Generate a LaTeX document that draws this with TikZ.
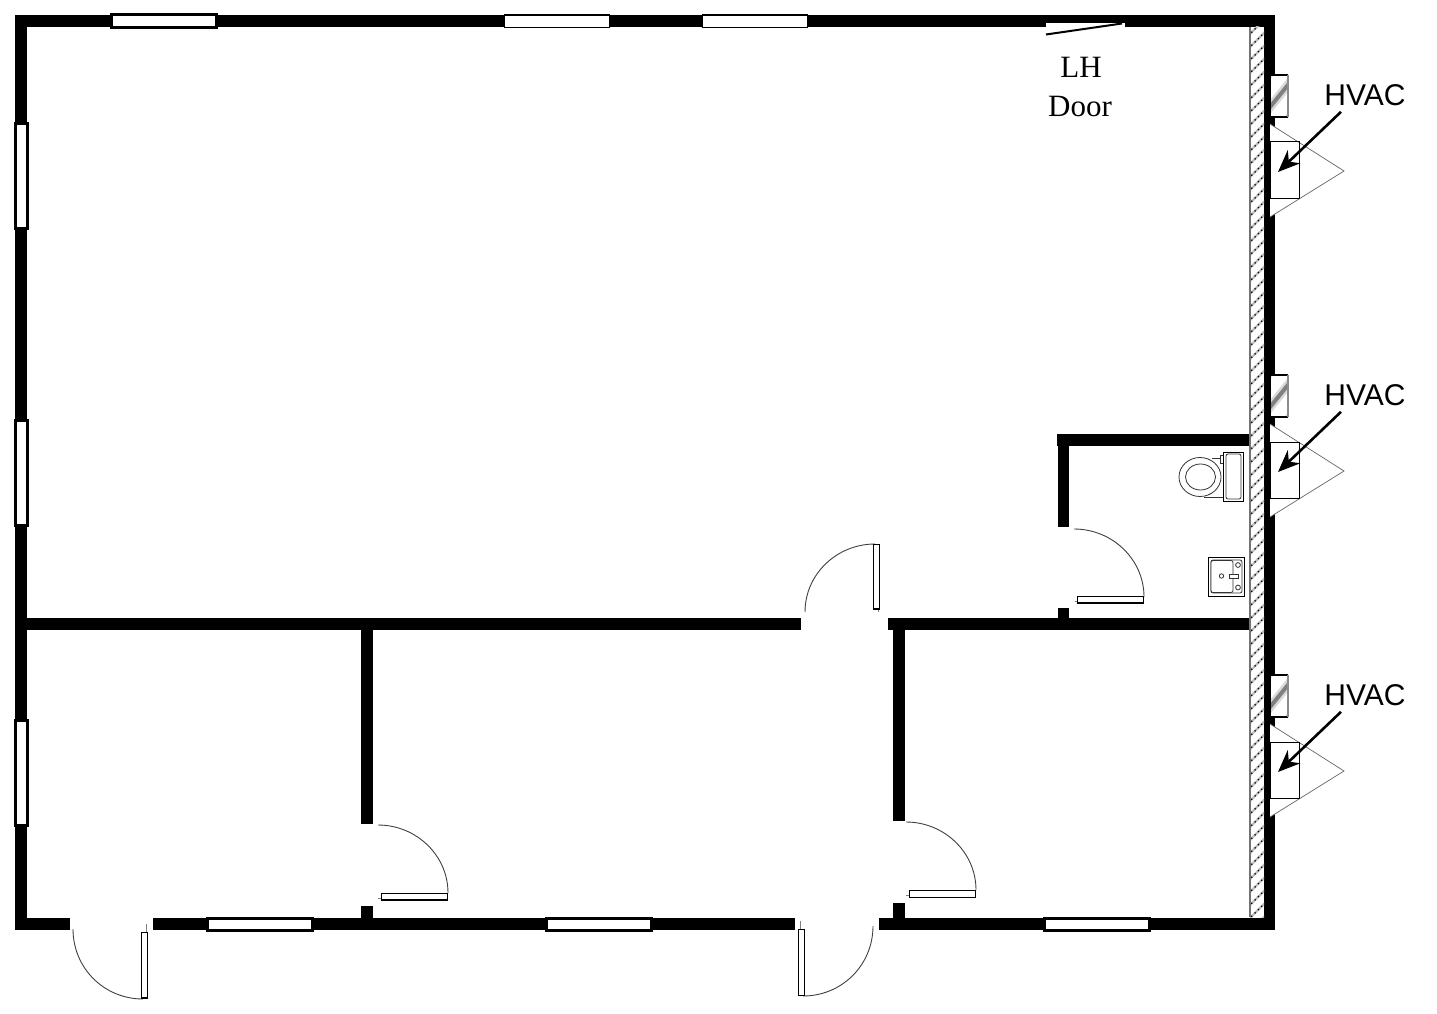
\documentclass[tikz,border=0pt]{standalone}
\usepackage{fontspec}
\setmainfont{Liberation Serif}
\newfontfamily\hvacfont{Liberation Sans}
\usetikzlibrary{arrows.meta}
\tikzset{
  wall/.style={fill=black,draw=none},
  winthick/.style={fill=white,draw=black,line width=3pt},
  winthin/.style={fill=white,draw=black,line width=1.2pt},
  panel/.style={fill=white,draw=black,line width=1.1pt},
  swing/.style={draw=black!75,line width=0.9pt},
  tick/.style={draw=black!50,line width=0.9pt},
  fixture/.style={draw=black!80,line width=0.8pt,fill=white},
  unitbox/.style={draw=black,line width=1pt},
  cone/.style={draw=black!60,line width=0.7pt},
  callout/.style={draw=black,line width=2.6pt,-{Stealth[length=22pt,width=18pt,inset=7pt]}},
  hvaclabel/.style={font=\hvacfont\fontsize{30}{30}\selectfont,inner xsep=3pt,inner ysep=6pt},
  doorlabel/.style={font=\fontsize{31}{31}\selectfont,inner sep=0pt}
}
\begin{document}
\begin{tikzpicture}[x=1pt,y=-1pt]
\useasboundingbox[fill=white] (0,0) rectangle (1437,1014);
% exterior walls
\fill[wall] (15,15) rectangle (1275,27);
\fill[wall] (15,15) rectangle (27,930);
\fill[wall] (1264,15) rectangle (1275,930);
\fill[wall] (15,918) rectangle (70,930);
\fill[wall] (153,918) rectangle (795,930);
\fill[wall] (879,918) rectangle (1275,930);
% interior walls
\fill[wall] (15,618) rectangle (801,630);
\fill[wall] (888,618) rectangle (1252,630);
\fill[wall] (361,630) rectangle (372.5,824);
\fill[wall] (361,906) rectangle (372.5,918);
\fill[wall] (893,630) rectangle (905,821);
\fill[wall] (893,903) rectangle (905,918);
\fill[wall] (1057,434) rectangle (1252,446);
\fill[wall] (1058,434) rectangle (1069,527);
\fill[wall] (1058,608) rectangle (1069,618);
% hatched strip
\fill[white] (1250,27) rectangle (1264,917);
\begin{scope}
\clip (1250,27) rectangle (1264,917);
\foreach \h in {20,33,...,940}{
  \draw[black!25,line width=2.4pt] (1248,\h+16) -- (1266,\h-2);
  \draw[black,line width=1.3pt,dash pattern=on 1.3pt off 3.4pt] (1248,\h+16) -- (1266,\h-2);
}
\end{scope}
\draw[black!55,line width=1.3pt] (1250,27) -- (1250,917);
% windows
\draw[winthick] (111.5,14.5) rectangle (216.5,27.5);
\draw[winthin] (504.5,15) rectangle (609.5,27.5);
\draw[winthin] (702.5,15) rectangle (807.5,27.5);
\draw[winthick] (15.5,123.5) rectangle (27.5,228.5);
\draw[winthick] (15.5,420.5) rectangle (27.5,525.5);
\draw[winthick] (15.5,720.5) rectangle (27.5,825.5);
\draw[winthick] (207.5,918.5) rectangle (312.5,930.5);
\draw[winthick] (546.5,918.5) rectangle (651.5,930.5);
\draw[winthick] (1044.5,918.5) rectangle (1149.5,930.5);
% LH door
\fill[white] (1046,23.5) rectangle (1125,27.5);
\draw[black,line width=2pt] (1046,34.5) -- (1122,23.5);
\node[doorlabel] (lh) at (1081,67) {LH};
\node[doorlabel] (door) at (1080,107) {Door};
% doors: swings, ticks and leaves
\draw[swing] (1074,529) .. controls (1112,529) and (1144,559) .. (1144,597);
\draw[tick] (1074.5,601) -- (1077,601);
\draw[panel] (1077.5,596.5) rectangle (1143.5,603);
\draw[swing] (378,825) .. controls (416,825) and (448,855) .. (448,893);
\draw[tick] (378,898.5) -- (381,898.5);
\draw[panel] (381.5,893.5) rectangle (447.5,900);
\draw[swing] (906,822) .. controls (944,822) and (976,852) .. (976,890);
\draw[tick] (906,895.5) -- (909,895.5);
\draw[panel] (909.5,890.5) rectangle (975.5,897.5);
\draw[swing] (873,926) .. controls (873,965) and (842,996) .. (803,996);
\draw[tick] (800,921) -- (800,929);
\draw[panel] (798.5,929.5) rectangle (804.5,995.5);
\draw[swing] (73,929) .. controls (73,968) and (104,999) .. (143,999);
\draw[tick] (146,924) -- (146,932);
\draw[panel] (141.5,932.5) rectangle (147.5,998);
\draw[swing] (805,612) .. controls (805,574) and (837,544) .. (875,544);
\draw[tick] (878,609) -- (878,612);
\draw[panel] (873.5,544.5) rectangle (879.5,609);
% toilet
\draw[fixture] (1212,458.5) -- (1223,458.5) -- (1223,497) -- (1204,497);
\draw[fixture] (1200,477) ellipse [x radius=21,y radius=19.5];
\draw[fixture] (1200.5,477) ellipse [x radius=15,y radius=13];
\draw[fixture] (1220.5,455) rectangle (1223.5,463);
\draw[draw=black,line width=0.9pt,fill=white] (1223.5,452.5) rectangle (1243,501);
\draw[fixture,rounded corners=2pt] (1226,454) rectangle (1241,499);
% sink
\draw[draw=black,line width=0.9pt,fill=white] (1208,557) rectangle (1244.5,596);
\draw[fixture,rounded corners=2pt] (1211,560) rectangle (1242,593);
\draw[fixture,rounded corners=2pt] (1211,560.5) rectangle (1233,592.5);
\draw[fixture] (1221.5,576) circle [radius=2.2];
\draw[fixture] (1229.5,574.5) rectangle (1238.5,578);
\draw[fixture] (1238,565) circle [radius=2.4];
\draw[fixture] (1238,587.5) circle [radius=2.4];
% HVAC units
\foreach \d in {0,300,600}{
\begin{scope}[yshift=-\d pt]
  \fill[white] (1270,124) -- (1344,171) -- (1270,217) -- cycle;
  \draw[cone] (1270,124) -- (1344,171) -- (1270,217);
  \draw[unitbox] (1270,142) rectangle (1299,198);
  \fill[white] (1270,75) rectangle (1288,117);
  \begin{scope}
    \clip (1270,75) rectangle (1288,117);
    \draw[black!15,line width=9pt] (1266,112) -- (1292,80);
    \draw[black!50,line width=4pt] (1266,112) -- (1292,80);
    \draw[black!15,line width=7pt] (1276,66) -- (1262,84);
    \draw[black!15,line width=7pt] (1282,126) -- (1296,108);
  \end{scope}
  \draw[black,line width=1.1pt] (1288,75) -- (1270,75) -- (1270,117) -- (1288,117);
  \draw[black!45,line width=1.1pt] (1288,75) -- (1288,117);
\end{scope}
\pgfmathsetmacro{\yy}{95+\d}
\pgfmathsetmacro{\yu}{172+\d}
\node[hvaclabel] (hvac\d) at (1365,\yy) {HVAC};
\coordinate (unit\d) at (1278,\yu);
\draw[callout] (hvac\d.215) -- (unit\d);
}
\end{tikzpicture}
\end{document}
